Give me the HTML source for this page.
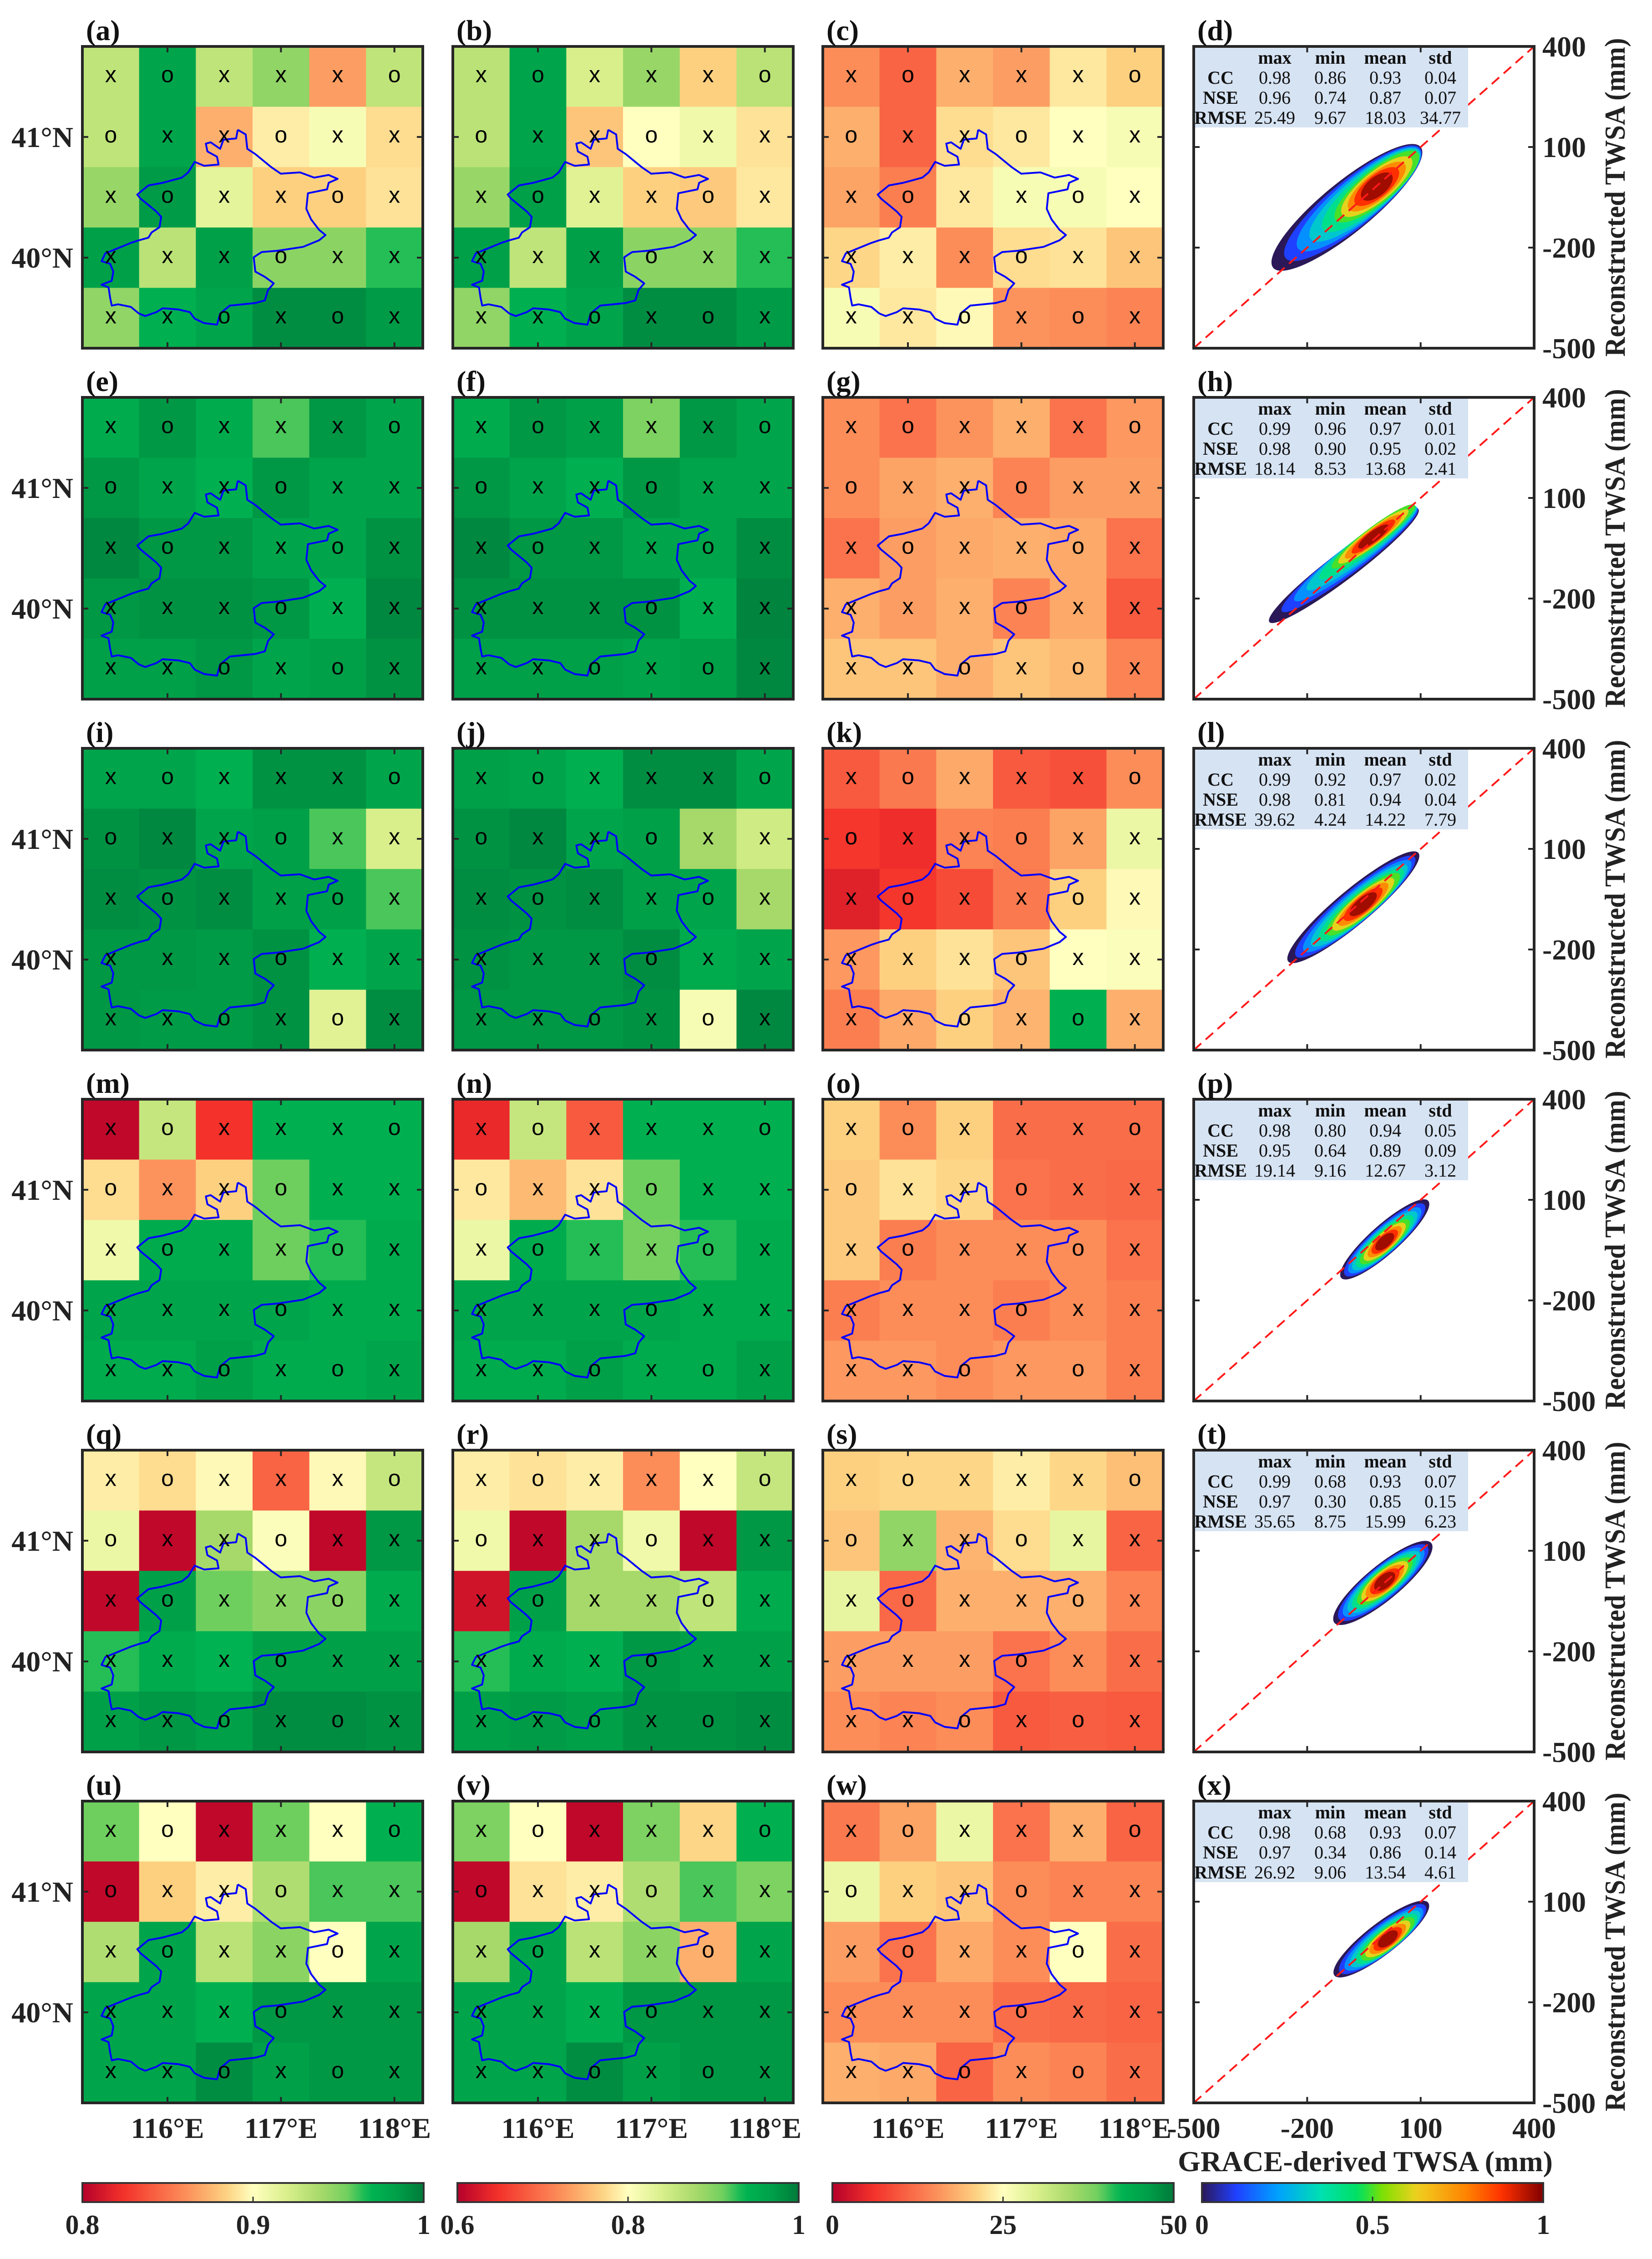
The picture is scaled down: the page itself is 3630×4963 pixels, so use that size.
<!DOCTYPE html>
<html><head><meta charset="utf-8"><style>
html,body{margin:0;padding:0;background:#fff}
svg{display:block}
text{font-family:"Liberation Serif",serif}
</style></head><body>
<svg id="fig" xmlns="http://www.w3.org/2000/svg" width="3630" height="4963" viewBox="0 0 3630 4963"></svg>
<script>
// ---------- DATA ----------
// Heat-map values are given as fractions of each colourbar's range (0 = left end, 1 = right end)
const cbTicksA=["0.8","0.9","1"];
const cbTicksB=["0.6","0.8","1"];
const cbTicksC=["0","25","50"];
const cbTicksD=["0","0.5","1"];
const lonTicks=[116,117,118];
const latTicks=[41,40];
const markers=[["x","o","x","x","x","o"],["o","x","x","o","x","x"],["x","o","x","x","o","x"],["x","x","x","o","x","x"],["x","x","o","x","o","x"]];
const panelA=[[.65,.9,.65,.73,.33,.65],[.65,.9,.36,.47,.52,.44],[.72,.93,.57,.42,.42,.45],[.92,.66,.92,.74,.74,.82],[.73,.86,.9,.96,.96,.93]];
const panelB=[[.66,.9,.6,.72,.42,.66],[.66,.9,.4,.5,.54,.45],[.72,.92,.58,.42,.41,.46],[.92,.65,.92,.74,.74,.82],[.73,.86,.9,.96,.96,.93]];
const panelC=[[.3,.22,.36,.33,.46,.42],[.36,.22,.44,.46,.5,.52],[.34,.27,.46,.52,.52,.5],[.43,.47,.3,.44,.45,.4],[.52,.46,.49,.31,.3,.28]];
const panelE=[[.88,.94,.88,.8,.94,.9],[.94,.9,.86,.94,.9,.9],[.97,.94,.94,.9,.9,.95],[.94,.95,.95,.94,.86,.97],[.92,.92,.94,.9,.92,.95]];
const panelF=[[.88,.94,.92,.76,.94,.9],[.94,.9,.86,.94,.9,.9],[.97,.94,.94,.9,.9,.96],[.95,.95,.95,.95,.86,.98],[.92,.92,.92,.9,.92,.97]];
const panelG=[[.3,.25,.31,.36,.25,.32],[.3,.34,.36,.28,.33,.33],[.25,.33,.35,.36,.35,.25],[.36,.33,.36,.28,.35,.2],[.4,.4,.36,.4,.38,.28]];
const panelI=[[.9,.9,.86,.95,.95,.9],[.95,.97,.9,.92,.8,.6],[.96,.95,.96,.92,.92,.8],[.94,.94,.93,.95,.86,.9],[.94,.93,.93,.95,.58,.96]];
const panelJ=[[.92,.9,.86,.96,.96,.9],[.95,.97,.9,.92,.7,.62],[.96,.95,.96,.92,.9,.7],[.95,.94,.94,.96,.88,.9],[.94,.94,.94,.95,.52,.97]];
const panelK=[[.2,.26,.35,.2,.18,.3],[.13,.11,.28,.27,.34,.55],[.08,.13,.17,.26,.42,.49],[.32,.42,.45,.4,.5,.51],[.27,.35,.42,.37,.86,.36]];
const panelM=[[.02,.64,.12,.86,.86,.86],[.44,.31,.42,.78,.86,.86],[.54,.88,.88,.78,.82,.88],[.9,.9,.9,.9,.88,.88],[.88,.88,.92,.88,.88,.9]];
const panelN=[[.1,.64,.2,.86,.86,.86],[.46,.38,.45,.78,.86,.86],[.55,.88,.82,.77,.82,.88],[.9,.9,.9,.9,.88,.88],[.88,.88,.92,.88,.88,.92]];
const panelO=[[.42,.3,.42,.24,.24,.24],[.41,.45,.43,.25,.24,.23],[.41,.27,.3,.3,.3,.25],[.27,.3,.3,.27,.3,.27],[.32,.32,.3,.32,.32,.27]];
const panelQ=[[.47,.44,.49,.22,.49,.64],[.55,.02,.7,.51,.02,.94],[.02,.92,.78,.74,.74,.88],[.82,.88,.85,.92,.92,.92],[.92,.94,.92,.96,.96,.95]];
const panelR=[[.47,.45,.47,.3,.5,.64],[.54,.02,.7,.54,.02,.94],[.05,.92,.7,.7,.65,.88],[.82,.88,.86,.94,.92,.92],[.92,.93,.92,.95,.95,.96]];
const panelS=[[.42,.43,.43,.47,.43,.39],[.4,.73,.37,.44,.56,.22],[.56,.23,.36,.36,.36,.28],[.33,.33,.33,.25,.3,.24],[.3,.28,.3,.2,.21,.2]];
const panelU=[[.78,.5,.02,.78,.5,.86],[.02,.42,.47,.68,.8,.8],[.68,.9,.66,.74,.5,.9],[.9,.9,.86,.94,.94,.94],[.9,.9,.96,.92,.94,.94]];
const panelV=[[.76,.5,.02,.76,.43,.86],[.02,.45,.47,.68,.8,.76],[.7,.9,.66,.74,.36,.9],[.9,.9,.86,.94,.94,.94],[.9,.9,.96,.92,.94,.94]];
const panelW=[[.26,.34,.55,.25,.36,.22],[.55,.42,.4,.3,.28,.28],[.33,.25,.35,.3,.5,.24],[.3,.3,.3,.24,.23,.22],[.36,.35,.22,.3,.28,.24]];
// scatter clouds (mm)
const scLowX=[-290,-300,-250,-110,-128,-128];
const scLowY=[-260,-270,-236,-133,-115,-120];
const scHighX=[100,94,94,120,128,120];
const scHighY=[100,67,88,97,123,97];
const scCoreX=[-16,-25,-52,5,5,13];
const scCoreY=[-18,-15,-65,-25,9,-11];
const scHalfWidth=[55,30,38,32,38,34];
const scAxisTicks=[-500,-200,100,400];
const statCols=["max","min","mean","std"];
const statRows=["CC","NSE","RMSE"];
const statVals=[
 [["0.98","0.86","0.93","0.04"],["0.96","0.74","0.87","0.07"],["25.49","9.67","18.03","34.77"]],
 [["0.99","0.96","0.97","0.01"],["0.98","0.90","0.95","0.02"],["18.14","8.53","13.68","2.41"]],
 [["0.99","0.92","0.97","0.02"],["0.98","0.81","0.94","0.04"],["39.62","4.24","14.22","7.79"]],
 [["0.98","0.80","0.94","0.05"],["0.95","0.64","0.89","0.09"],["19.14","9.16","12.67","3.12"]],
 [["0.99","0.68","0.93","0.07"],["0.97","0.30","0.85","0.15"],["35.65","8.75","15.99","6.23"]],
 [["0.98","0.68","0.93","0.07"],["0.97","0.34","0.86","0.14"],["26.92","9.06","13.54","4.61"]]];

// ---------- LAYOUT ----------
const NS="http://www.w3.org/2000/svg";
const svg=document.getElementById('fig');
const W=748,H=663;
const colX=[181,995,1808,2623];
const rowY=[102,873,1644,2415,3186,3957];
const grids=[[panelA,panelB,panelC],[panelE,panelF,panelG],[panelI,panelJ,panelK],[panelM,panelN,panelO],[panelQ,panelR,panelS],[panelU,panelV,panelW]];
const letters="abcdefghijklmnopqrstuvwx";
function el(tag,attrs,parent){const e=document.createElementNS(NS,tag);for(const k in attrs)e.setAttribute(k,attrs[k]);(parent||svg).appendChild(e);return e;}
function hex(c){return [parseInt(c.slice(1,3),16),parseInt(c.slice(3,5),16),parseInt(c.slice(5,7),16)];}
const rdyl=[[0,'#b5002a'],[.12,'#f4312a'],[.3,'#fc8d59'],[.42,'#fdd080'],[.5,'#ffffbf'],[.6,'#d9ef8b'],[.7,'#a6d96a'],[.78,'#6fcf5e'],[.84,'#00b552'],[.92,'#00a049'],[1,'#007a3a']];
const jet=[[0,'#2a1858'],[.1,'#2040ff'],[.22,'#00a0ff'],[.35,'#00e0b0'],[.46,'#00e060'],[.53,'#80e000'],[.63,'#f0d020'],[.78,'#ff8000'],[.88,'#ff3000'],[1,'#800000']];
function cmap(stops,t){t=Math.max(0,Math.min(1,t));for(let i=1;i<stops.length;i++){if(t<=stops[i][0]){const a=stops[i-1],b=stops[i];const f=(t-a[0])/(b[0]-a[0]);const A=hex(a[1]),B=hex(b[1]);return 'rgb('+A.map((v,k)=>Math.round(v+(B[k]-v)*f)).join(',')+')';}}return stops[stops.length-1][1];}
function lonX(x0,lon){return x0+(lon-115.25)/3*W;}
function latY(y0,lat){return y0+(41.75-lat)/2.5*H;}

const bz=[[745,497],[770,515],[775,570],[800,590],[850,640],[880,665],[940,660],[985,680],[1030,670],[1058,685],[1030,700],[1025,725],[965,740],[960,800],[975,840],[1000,880],[1020,900],[1000,920],[950,945],[870,960],[820,965],[795,985],[800,1040],[830,1060],[858,1085],[840,1110],[830,1150],[800,1160],[760,1165],[720,1170],[690,1200],[680,1243],[640,1237],[610,1220],[595,1195],[560,1185],[510,1180],[490,1195],[455,1210],[435,1200],[410,1175],[370,1165],[350,1170],[345,1140],[340,1100],[318,1090],[350,1075],[355,1040],[345,1010],[318,1000],[330,970],[370,950],[410,930],[435,920],[465,910],[475,890],[500,870],[505,830],[490,810],[470,790],[440,760],[430,745],[465,710],[510,700],[540,690],[570,680],[590,660],[610,620],[640,635],[685,630],[680,600],[650,580],[645,550],[660,545],[690,570],[700,535],[740,530],[745,497]];
function outline(x0,y0){return bz.map(p=>(x0+(p[0]-258)/1067*W).toFixed(1)+','+(y0+(p[1]-178)/1155*H).toFixed(1)).join(' ');}

for(let r=0;r<6;r++){
  const y0=rowY[r];
  for(let c=0;c<3;c++){
    const x0=colX[c];const g=el('g',{});
    
    
    const data=grids[r][c];
    for(let i=0;i<5;i++)for(let j=0;j<6;j++){
      const cell=el('rect',{x:x0+j*W/6,y:y0+i*H/5,width:W/6+0.6,height:H/5+0.6,fill:cmap(rdyl,data[i][j])},g);
      
      
    }
    const pl=el('polyline',{points:outline(x0,y0),fill:'none',stroke:'#0000ff','stroke-width':4,'stroke-linejoin':'round'},g);
    
    
    for(let i=0;i<5;i++)for(let j=0;j<6;j++){
      const t=el('text',{x:x0+(j+0.5)*W/6,y:y0+(i+0.5)*H/5+12,'text-anchor':'middle','font-size':50,style:'font-family:"Liberation Sans",sans-serif',fill:'#000'},g);
      t.textContent=markers[i][j];
      
      
    }
    lonTicks.forEach(l=>{const x=lonX(x0,l);el('line',{x1:x,x2:x,y1:y0,y2:y0+13,stroke:'#262626','stroke-width':4},g);el('line',{x1:x,x2:x,y1:y0+H,y2:y0+H-13,stroke:'#262626','stroke-width':4},g);});
    latTicks.forEach(l=>{const y=latY(y0,l);el('line',{x1:x0,x2:x0+13,y1:y,y2:y,stroke:'#262626','stroke-width':4},g);el('line',{x1:x0+W,x2:x0+W-13,y1:y,y2:y,stroke:'#262626','stroke-width':4},g);});
    el('rect',{x:x0,y:y0,width:W,height:H,fill:'none',stroke:'#262626','stroke-width':6},g);
    if(c===0){latTicks.forEach(l=>{const t=el('text',{x:x0-20,y:latY(y0,l)+22,'text-anchor':'end','font-size':64,'font-weight':'bold',fill:'#222'});t.textContent=l+'°N';});}
    if(r===5){lonTicks.forEach(l=>{const t=el('text',{x:lonX(x0,l),y:4697,'text-anchor':'middle','font-size':64,'font-weight':'bold',fill:'#222'});t.textContent=l+'°E';});}
  }
  const x0=colX[3];const g=el('g',{});
  
  
  const sx=v=>x0+(v+500)/900*W, sy=v=>y0+H-(v+500)/900*H;
  const lx=sx(scLowX[r]),ly=sy(scLowY[r]),hx=sx(scHighX[r]),hy=sy(scHighY[r]),cx=sx(scCoreX[r]),cy=sy(scCoreY[r]);
  const mx=(lx+hx)/2,my=(ly+hy)/2,L=Math.hypot(hx-lx,hy-ly)/2,ang=Math.atan2(hy-ly,hx-lx)*180/Math.PI;
  const wid=scHalfWidth[r];
  const levels=[0,.1,.2,.3,.4,.5,.62,.76,.88,.97];
  levels.forEach((lv,k)=>{const f=k/(levels.length-1);const sl=1-f*0.8;const sw=1-f*0.62;
    const ex=mx+(cx-mx)*Math.min(1,f*1.8),ey=my+(cy-my)*Math.min(1,f*1.8);
    const e=el('ellipse',{cx:ex,cy:ey,rx:L*sl,ry:wid*sw,fill:cmap(jet,lv),transform:'rotate('+ang+' '+ex+' '+ey+')'},g);
    
    });
  const dl=el('line',{x1:sx(-500),y1:sy(-500),x2:sx(400),y2:sy(400),stroke:'#ff1a1a','stroke-width':4,'stroke-dasharray':'22 13'},g);
  
  const tb=el('rect',{x:x0+3,y:y0+3,width:600,height:175,fill:'#d6e3f3'},g);
  
  const cxs=[59,178,300,421,542];
  statCols.forEach((h,k)=>{const t=el('text',{x:x0+cxs[k+1],y:y0+38,'text-anchor':'middle','font-size':40,'font-weight':'bold',fill:'#111'},g);t.textContent=h;});
  statRows.forEach((rn,i)=>{const yy=y0+82+i*44;const t=el('text',{x:x0+cxs[0],y:yy,'text-anchor':'middle','font-size':40,'font-weight':'bold',fill:'#111'},g);t.textContent=rn;
    statVals[r][i].forEach((v,k)=>{const tv=el('text',{x:x0+cxs[k+1],y:yy,'text-anchor':'middle','font-size':40,fill:'#111'},g);tv.textContent=v;});});
  scAxisTicks.slice(1,3).forEach(v=>{el('line',{x1:sx(v),x2:sx(v),y1:y0,y2:y0+13,stroke:'#262626','stroke-width':4},g);el('line',{x1:sx(v),x2:sx(v),y1:y0+H,y2:y0+H-13,stroke:'#262626','stroke-width':4},g);
    el('line',{x1:x0,x2:x0+13,y1:sy(v),y2:sy(v),stroke:'#262626','stroke-width':4},g);el('line',{x1:x0+W,x2:x0+W-13,y1:sy(v),y2:sy(v),stroke:'#262626','stroke-width':4},g);});
  el('rect',{x:x0,y:y0,width:W,height:H,fill:'none',stroke:'#262626','stroke-width':6},g);
  scAxisTicks.forEach(v=>{const t=el('text',{x:x0+W+18,y:sy(v)+22,'font-size':64,'font-weight':'bold',fill:'#222'});t.textContent=v;});
  const yt=el('text',{x:3570,y:y0+H/2,'text-anchor':'middle','font-size':64,'font-weight':'bold',fill:'#222',textLength:700,lengthAdjust:'spacingAndGlyphs',transform:'rotate(-90 3570 '+(y0+H/2)+')'});
  yt.textContent='Reconstructed TWSA (mm)';
  if(r===5){scAxisTicks.forEach(v=>{const t=el('text',{x:sx(v),y:4697,'text-anchor':'middle','font-size':64,'font-weight':'bold',fill:'#222'});t.textContent=v;});}
  for(let c=0;c<4;c++){const t=el('text',{x:colX[c]+8,y:y0-14,'font-size':64,'font-weight':'bold',fill:'#111'});t.textContent='('+letters[r*4+c]+')';}
}
const xt=el('text',{x:3000,y:4770,'text-anchor':'middle','font-size':64,'font-weight':'bold',fill:'#222'});
xt.textContent='GRACE-derived TWSA (mm)';



const defs=el('defs',{});
const cbX=[181,1005,1829,2641],cbW=750,cbY=4796,cbH=42;
const cbTicks=[cbTicksA,cbTicksB,cbTicksC,cbTicksD];
for(let c=0;c<4;c++){
  const lg=el('linearGradient',{id:'cb'+c,x1:0,x2:1,y1:0,y2:0},defs);
  const st=c===3?jet:rdyl;
  for(let k=0;k<=40;k++){el('stop',{offset:k/40,'stop-color':cmap(st,k/40)},lg);}
  const r=el('rect',{x:cbX[c],y:cbY,width:cbW,height:cbH,fill:'url(#cb'+c+')',stroke:'#333','stroke-width':4});
  
  
  el('line',{x1:cbX[c]+cbW/2,x2:cbX[c]+cbW/2,y1:cbY+cbH,y2:cbY+cbH-12,stroke:'#333','stroke-width':3});
  cbTicks[c].forEach((lbl,k)=>{const t=el('text',{x:cbX[c]+k*cbW/2,y:4908,'text-anchor':'middle','font-size':60,'font-weight':'bold',fill:'#222'});t.textContent=lbl;});
}
</script>
</body></html>
